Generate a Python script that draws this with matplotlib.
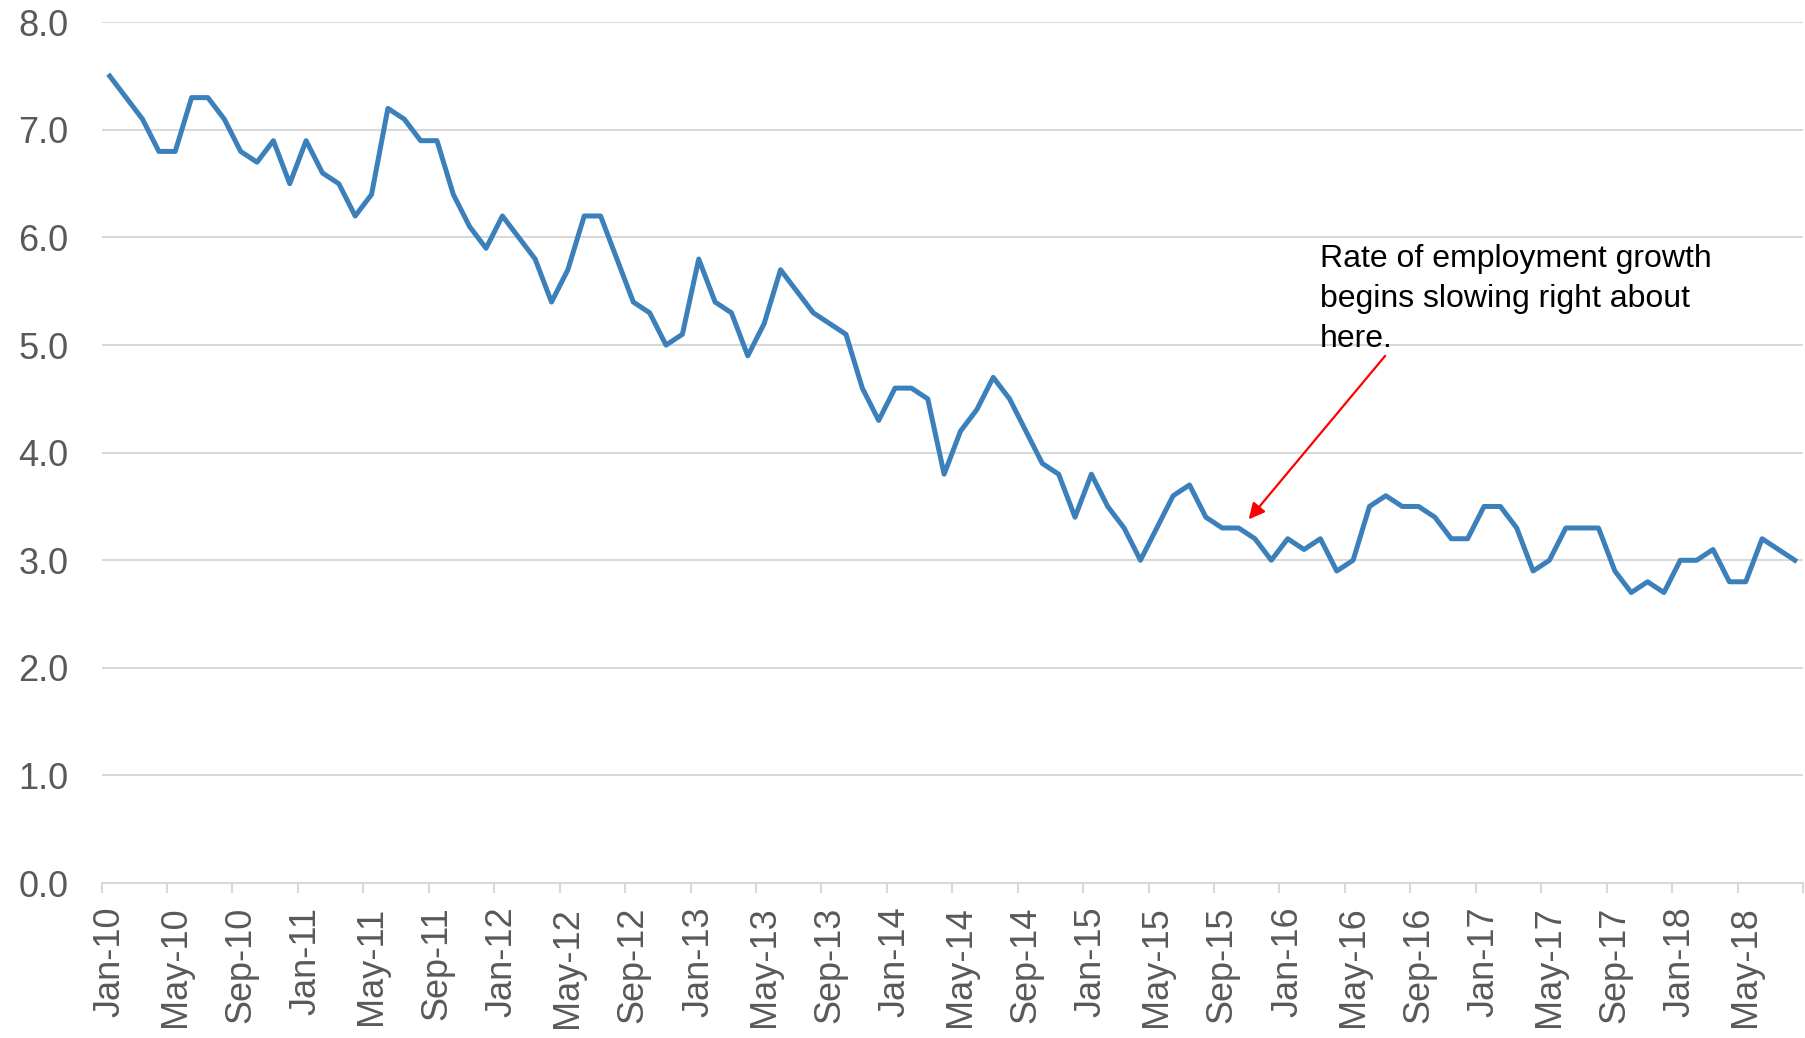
import numpy as np
import matplotlib
matplotlib.use('Agg')
import matplotlib.pyplot as plt
from matplotlib.ticker import FormatStrFormatter

# monthly values, Jan-2010 .. Aug-2018
rate = [
    7.5, 7.3, 7.1, 6.8, 6.8, 7.3, 7.3, 7.1, 6.8, 6.7, 6.9, 6.5,
    6.9, 6.6, 6.5, 6.2, 6.4, 7.2, 7.1, 6.9, 6.9, 6.4, 6.1, 5.9,
    6.2, 6.0, 5.8, 5.4, 5.7, 6.2, 6.2, 5.8, 5.4, 5.3, 5.0, 5.1,
    5.8, 5.4, 5.3, 4.9, 5.2, 5.7, 5.5, 5.3, 5.2, 5.1, 4.6, 4.3,
    4.6, 4.6, 4.5, 3.8, 4.2, 4.4, 4.7, 4.5, 4.2, 3.9, 3.8, 3.4,
    3.8, 3.5, 3.3, 3.0, 3.3, 3.6, 3.7, 3.4, 3.3, 3.3, 3.2, 3.0,
    3.2, 3.1, 3.2, 2.9, 3.0, 3.5, 3.6, 3.5, 3.5, 3.4, 3.2, 3.2,
    3.5, 3.5, 3.3, 2.9, 3.0, 3.3, 3.3, 3.3, 2.9, 2.7, 2.8, 2.7,
    3.0, 3.0, 3.1, 2.8, 2.8, 3.2, 3.1, 3.0,
]

tick_labels = [
    'Jan-10', 'May-10', 'Sep-10', 'Jan-11', 'May-11', 'Sep-11',
    'Jan-12', 'May-12', 'Sep-12', 'Jan-13', 'May-13', 'Sep-13',
    'Jan-14', 'May-14', 'Sep-14', 'Jan-15', 'May-15', 'Sep-15',
    'Jan-16', 'May-16', 'Sep-16', 'Jan-17', 'May-17', 'Sep-17',
    'Jan-18', 'May-18',
]

note = 'Rate of employment growth\nbegins slowing right about\nhere.'

plt.rcParams['font.family'] = ['Liberation Sans', 'DejaVu Sans']

fig = plt.figure(figsize=(18.06, 10.38), dpi=100)
ax = fig.add_axes([0.05626, 0.1493, 0.94208, 0.8292])

x = np.arange(len(rate))
ax.plot(x, rate, color='#3b80ba', lw=3.6, solid_joinstyle='round', zorder=3)

grid_col = '#d9d9d9'
ax.set_xlim(-0.5, len(rate) - 0.5)
ax.set_ylim(0, 8)
ax.set_yticks(np.arange(0, 9, 1))
ax.yaxis.set_major_formatter(FormatStrFormatter('%.1f'))
ax.grid(axis='y', color=grid_col, lw=1.5, zorder=0)
ax.set_axisbelow(True)

ax.set_xticks(np.arange(0, len(rate), 4))
ax.set_xticklabels(tick_labels, rotation=90)
ax.set_xticks(np.arange(-0.5, len(rate), 4), minor=True)

ax.tick_params(axis='y', length=0, pad=24, labelsize=26, labelcolor='#595959')
ax.tick_params(axis='x', which='major', length=0, pad=17, labelsize=26,
               labelcolor='#595959')
ax.tick_params(axis='x', which='minor', length=7, width=1.5, color=grid_col)

for side in ['top', 'right', 'left']:
    ax.spines[side].set_visible(False)
ax.spines['bottom'].set_color(grid_col)
ax.spines['bottom'].set_linewidth(1.5)

ax.annotate('', xy=(69.62, 3.38), xytext=(77.96, 4.90),
            arrowprops=dict(arrowstyle='-|>', color='red', lw=1.6,
                            mutation_scale=24, shrinkA=0, shrinkB=0))
# baseline alignment of multi-line text sits on the last line
ax.text(73.97, 4.98, note, fontsize=23, color='black', ha='left',
        va='baseline', linespacing=1.44)

fig.savefig('out.png', dpi=100)
